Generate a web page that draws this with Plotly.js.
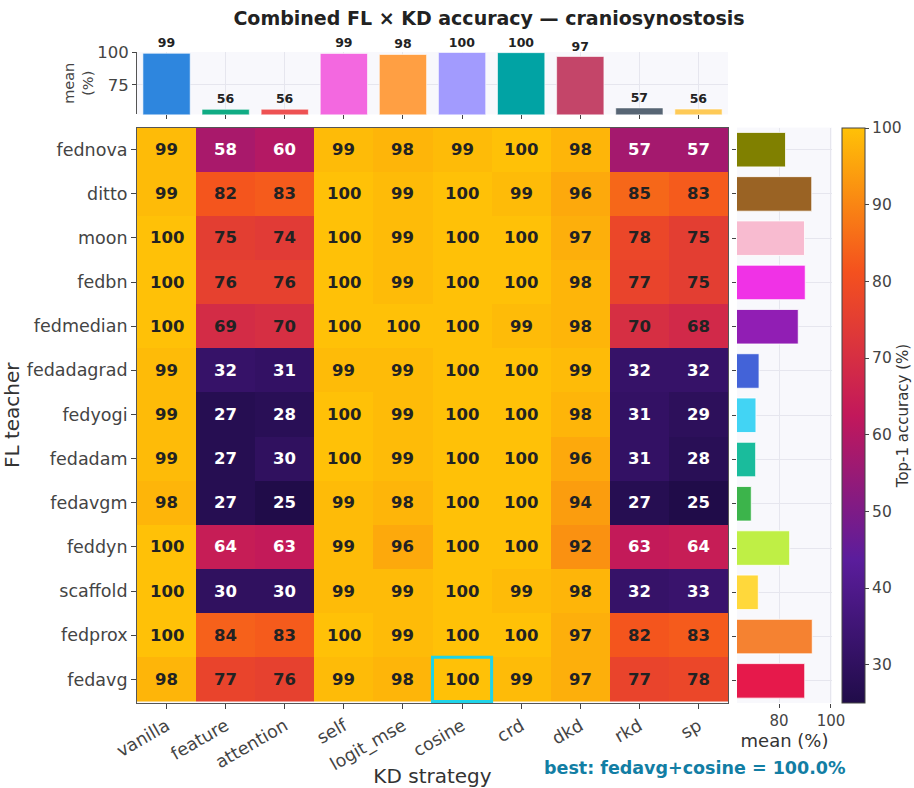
<!DOCTYPE html>
<html>
<head>
<meta charset="utf-8">
<script src="https://cdn.plot.ly/plotly-3.0.1.min.js"></script>
<style>html,body{margin:0;padding:0;background:#fff;}#chart{width:914px;height:788px;}</style>
</head>
<body>
<div id="chart"></div>
<script>
// KD strategies (columns)
const strategies = ['vanilla','feature','attention','self','logit_mse','cosine','crd','dkd','rkd','sp'];
// FL teachers, bottom to top
const teachers = ['fedavg','fedprox','scaffold','feddyn','fedavgm','fedadam','fedyogi','fedadagrad','fedmedian','fedbn','moon','ditto','fednova'];
// Top-1 accuracy (%), one row per teacher (same order as teachers)
const accuracy = [
  [98, 77, 76, 99, 98, 100, 99, 97, 77, 78],   // fedavg
  [100, 84, 83, 100, 99, 100, 100, 97, 82, 83], // fedprox
  [100, 30, 30, 99, 99, 100, 99, 98, 32, 33],   // scaffold
  [100, 64, 63, 99, 96, 100, 100, 92, 63, 64],  // feddyn
  [98, 27, 25, 99, 98, 100, 100, 94, 27, 25],   // fedavgm
  [99, 27, 30, 100, 99, 100, 100, 96, 31, 28],  // fedadam
  [99, 27, 28, 100, 99, 100, 100, 98, 31, 29],  // fedyogi
  [99, 32, 31, 99, 99, 100, 100, 99, 32, 32],   // fedadagrad
  [100, 69, 70, 100, 100, 100, 99, 98, 70, 68], // fedmedian
  [100, 76, 76, 100, 99, 100, 100, 98, 77, 75], // fedbn
  [100, 75, 74, 100, 99, 100, 100, 97, 78, 75], // moon
  [99, 82, 83, 100, 99, 100, 99, 96, 85, 83],   // ditto
  [99, 58, 60, 99, 98, 99, 100, 98, 57, 57]     // fednova
];
// mean accuracy per KD strategy
const strategyMeans = [99.3, 56.0, 56.1, 99.2, 98.4, 99.9, 99.8, 96.8, 57.1, 56.2];
const strategyColors = ['#2e86de','#10ac84','#ee5253','#f368e0','#ff9f43','#a29bfe','#01a3a4','#c44569','#576574','#feca57'];
const teacherColors = ['#e6194b','#f58231','#ffd83b','#bfef45','#3cb44b','#1abc9c','#42d4f4','#4363d8','#911eb4','#f032e6','#f8bbd0','#9a6324','#808000'];

const rowMeans = accuracy.map(r => r.reduce((a, v) => a + v, 0) / r.length);

let best = {v: -Infinity, i: 0, j: 0};
accuracy.forEach((r, i) => r.forEach((v, j) => { if (v > best.v) best = {v, i, j}; }));

const FONT = 'DejaVu Sans, Verdana, sans-serif';
const zmin = 25, zmax = 100;

const heat = {
  type: 'heatmap', x: strategies, y: teachers, z: accuracy,
  xaxis: 'x', yaxis: 'y', zmin: zmin, zmax: zmax,
  colorscale: [[0,'#200c49'],[0.25,'#5b1d9c'],[0.5,'#c2185b'],[0.75,'#f4511e'],[1,'#ffc107']],
  colorbar: {
    x: 1.0141, xanchor: 'left', xref: 'paper', y: 0, yanchor: 'bottom', len: 0.884, lenmode: 'fraction',
    thickness: 23, xpad: 0, ypad: 0, outlinewidth: 1, outlinecolor: '#444',
    tickvals: [30,40,50,60,70,80,90,100], ticks: 'outside', ticklen: 4, tickcolor: '#444',
    tickfont: {family: FONT, size: 15.5, color: '#444'},
    title: {text: 'Top-1 accuracy (%)', side: 'right', font: {family: FONT, size: 15, color: '#333'}}
  },
  hoverinfo: 'skip'
};

const topBar = {
  type: 'bar', x: strategies, y: strategyMeans, xaxis: 'x2', yaxis: 'y2',
  marker: {color: strategyColors, line: {color: 'rgba(255,255,255,0.6)', width: 1}},
  width: 0.8,
  text: strategyMeans.map(v => String(Math.round(v))), textposition: 'outside', cliponaxis: false,
  constraintext: 'none',
  textfont: {family: FONT, size: 12.5, color: '#222', weight: 'bold'},
  showlegend: false, hoverinfo: 'skip'
};

const sideBar = {
  type: 'bar', orientation: 'h', x: rowMeans, y: teachers, xaxis: 'x3', yaxis: 'y3',
  marker: {color: teacherColors, line: {color: 'rgba(255,255,255,0.8)', width: 1}},
  width: 0.78, showlegend: false, hoverinfo: 'skip'
};

const annotations = [];
accuracy.forEach((r, i) => r.forEach((v, j) => {
  const light = (v - zmin) / (zmax - zmin) < 0.55;
  annotations.push({
    x: strategies[j], y: teachers[i], xref: 'x', yref: 'y', text: String(Math.round(v)),
    showarrow: false, font: {family: FONT, size: 16.5, weight: 'bold', color: light ? '#ffffff' : '#222222'}
  });
}));
annotations.push({
  xref: 'paper', yref: 'paper', x: 0.803, y: -0.0998, xanchor: 'center', yanchor: 'middle',
  text: '<b>best: ' + teachers[best.i] + '+' + strategies[best.j] + ' = ' + best.v.toFixed(1) + '%</b>',
  showarrow: false, font: {family: FONT, size: 17.5, color: '#127ea4'}
});

const shapes = [{
  type: 'rect', xref: 'x', yref: 'y',
  x0: best.j - 0.5, x1: best.j + 0.5, y0: best.i - 0.5, y1: best.i + 0.5,
  line: {color: '#1fd3e8', width: 3}, fillcolor: 'rgba(0,0,0,0)'
}];

const tickFont = {family: FONT, size: 17.5, color: '#444'};
const grid = '#e6e6ee';

const layout = {
  width: 914, height: 788,
  margin: {l: 137, r: 82, t: 52, b: 85, autoexpand: false},
  paper_bgcolor: '#ffffff', plot_bgcolor: '#f8f8fc',
  font: {family: FONT, color: '#444'},
  title: {text: '<b>Combined FL × KD accuracy — craniosynostosis</b>', xref: 'paper', x: 0.5065, xanchor: 'center',
          yref: 'container', y: 0.977, yanchor: 'middle', font: {family: FONT, size: 19, color: '#222'}},
  showlegend: false,
  xaxis: {domain: [0, 0.8504], anchor: 'y', type: 'category', tickangle: -30, ticks: 'outside', ticklen: 5, tickcolor: '#444',
          tickfont: tickFont, showline: true, mirror: true, linecolor: '#555', linewidth: 1, showgrid: false, zeroline: false,
          automargin: false,
          title: {text: 'KD strategy', font: {family: FONT, size: 20, color: '#333'}, standoff: 6}},
  yaxis: {domain: [0, 0.884], anchor: 'x', type: 'category', ticks: 'outside', ticklen: 5, tickcolor: '#444',
          tickfont: tickFont, showline: true, mirror: true, linecolor: '#555', linewidth: 1, showgrid: false, zeroline: false,
          automargin: false,
          title: {text: 'FL teacher', font: {family: FONT, size: 20, color: '#333'}, standoff: 10}},
  xaxis2: {domain: [0, 0.8504], anchor: 'y2', type: 'category', showticklabels: false, ticks: 'outside', ticklen: 4,
           tickcolor: '#444', showgrid: true, gridcolor: grid, zeroline: false, showline: false},
  yaxis2: {domain: [0.904, 1], anchor: 'x2', range: [52, 100.3], tickvals: [75, 100], ticks: 'outside', ticklen: 4,
           tickcolor: '#444', tickfont: {family: FONT, size: 16.5, color: '#444'}, showgrid: true, gridcolor: grid,
           zeroline: false, showline: true, linecolor: '#555', linewidth: 1, automargin: false,
           title: {text: 'mean<br>(%)', font: {family: FONT, size: 14.5, color: '#444'}, standoff: 0}},
  xaxis3: {domain: [0.8633, 1], anchor: 'y3', range: [63.8, 100.4], tickvals: [80, 100], ticks: 'outside', ticklen: 4,
           tickcolor: '#444', tickfont: {family: FONT, size: 15, color: '#444'}, showgrid: true, gridcolor: grid,
           zeroline: false, showline: false, automargin: false,
           title: {text: 'mean (%)', font: {family: FONT, size: 18, color: '#333'}, standoff: 2}},
  yaxis3: {domain: [0, 0.884], anchor: 'x3', type: 'category', categoryorder: 'array', categoryarray: teachers,
           showticklabels: false, ticks: 'outside', ticklen: 4, tickcolor: '#444', showgrid: true, gridcolor: grid,
           zeroline: false, showline: false},
  annotations: annotations,
  shapes: shapes
};

Plotly.newPlot('chart', [heat, topBar, sideBar], layout, {displayModeBar: false, staticPlot: true});
</script>
</body>
</html>
